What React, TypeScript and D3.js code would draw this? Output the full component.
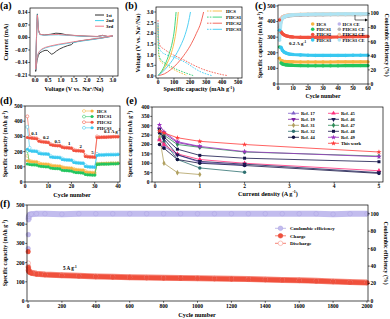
import React from 'react'
import * as d3 from 'd3'

const FONT = '"Liberation Serif", "Times New Roman", serif'
const TICK = 5.5
const TITLE = 6.2

// ---------- (a) CV, [V, mA] ----------
const cvNames = ['1st', '2nd', '3rd']
const cvColors = ['#2b2b2b', '#3fd0ea', '#f27a87']
const cv1st: [number, number][] = [
  [3.0, 0.008], [2.6, -0.002], [2.2, -0.01], [1.8, -0.018], [1.5, -0.026], [1.4, -0.04], [1.25, -0.046],
  [1.1, -0.054], [0.95, -0.064], [0.82, -0.076], [0.72, -0.088], [0.64, -0.094], [0.56, -0.085], [0.47, -0.072],
  [0.38, -0.072], [0.28, -0.078], [0.18, -0.086], [0.12, -0.1], [0.07, -0.13], [0.04, -0.165], [0.02, -0.19],
  [0.03, -0.11], [0.05, -0.01], [0.07, 0.09], [0.085, 0.132], [0.1, 0.1], [0.13, 0.04], [0.18, 0.018],
  [0.35, 0.014], [0.6, 0.018], [0.8, 0.024], [1.0, 0.022], [1.2, 0.015], [1.6, 0.01], [2.0, 0.007],
  [2.4, 0.005], [2.6, 0.012], [2.8, 0.005], [3.0, 0.008],
]
const cv2nd: [number, number][] = [
  [3.0, 0.008], [2.6, -0.003], [2.2, -0.012], [1.8, -0.02], [1.5, -0.027], [1.2, -0.034], [0.9, -0.041],
  [0.6, -0.05], [0.4, -0.058], [0.25, -0.068], [0.15, -0.082], [0.09, -0.1], [0.05, -0.14], [0.03, -0.17],
  [0.02, -0.18], [0.03, -0.1], [0.05, 0.0], [0.07, 0.09], [0.085, 0.128], [0.1, 0.098], [0.13, 0.04],
  [0.18, 0.016], [0.35, 0.012], [0.6, 0.014], [0.9, 0.015], [1.2, 0.012], [1.6, 0.009], [2.0, 0.006],
  [2.4, 0.004], [2.6, 0.01], [2.8, 0.005], [3.0, 0.008],
]
const cv3rd: [number, number][] = [
  [3.0, 0.009], [2.6, -0.001], [2.2, -0.009], [1.8, -0.017], [1.5, -0.024], [1.2, -0.031], [0.9, -0.038],
  [0.6, -0.047], [0.4, -0.055], [0.25, -0.065], [0.15, -0.08], [0.09, -0.1], [0.05, -0.14], [0.03, -0.17],
  [0.02, -0.178], [0.03, -0.1], [0.05, 0.0], [0.07, 0.09], [0.085, 0.126], [0.1, 0.097], [0.13, 0.04],
  [0.18, 0.018], [0.35, 0.014], [0.6, 0.016], [0.9, 0.017], [1.2, 0.014], [1.6, 0.011], [2.0, 0.008],
  [2.4, 0.006], [2.6, 0.011], [2.8, 0.007], [3.0, 0.009],
]

// ---------- (b) charge / discharge profiles, [mAh/g, V] ----------
const samples = ['HCS', 'PHCS1', 'PHCS2', 'PHCS3']
const sampleColors = ['#f6b93b', '#2fd173', '#f3594d', '#3ecbf2']
const dischargeHCS: [number, number][] = [[0, 2.3], [2, 1.4], [6, 0.9], [15, 0.7], [40, 0.55], [80, 0.38], [120, 0.22], [150, 0.12], [180, 0.03]]
const dischargeP1: [number, number][] = [[0, 2.4], [2, 1.5], [6, 1.0], [15, 0.8], [40, 0.62], [80, 0.45], [120, 0.3], [160, 0.18], [200, 0.07], [220, 0.02]]
const dischargeP2: [number, number][] = [[0, 2.62], [2, 2.0], [6, 1.6], [15, 1.4], [40, 1.25], [80, 1.05], [120, 0.9], [170, 0.72], [220, 0.52], [270, 0.35], [320, 0.22], [370, 0.12], [410, 0.05], [435, 0.02]]
const dischargeP3: [number, number][] = [[0, 2.5], [2, 1.8], [6, 1.4], [20, 1.15], [50, 1.0], [100, 0.88], [140, 0.75], [180, 0.6], [220, 0.4], [260, 0.22], [300, 0.1], [335, 0.02]]
const chargeHCS: [number, number][] = [[0, 0.02], [25, 0.2], [50, 0.5], [80, 1.0], [100, 1.55], [115, 2.2], [127, 3.0]]
const chargeP1: [number, number][] = [[0, 0.02], [20, 0.2], [45, 0.55], [70, 1.05], [90, 1.6], [103, 2.2], [113, 3.0]]
const chargeP2: [number, number][] = [[0, 0.02], [40, 0.1], [80, 0.3], [120, 0.58], [160, 0.95], [200, 1.4], [240, 2.0], [270, 2.55], [285, 3.0]]
const chargeP3: [number, number][] = [[0, 0.02], [30, 0.2], [60, 0.45], [100, 0.85], [140, 1.4], [170, 1.95], [190, 2.5], [203, 3.0]]

// ---------- (c) cycling at 0.2 A/g ----------
const cCycles = [1, 2, 3, 4, 5, 6, 7, 8, 9, 10, 15, 20, 25, 30, 35, 40, 45, 50, 55, 60]
const cCapHCS = [165, 150, 147, 145, 144, 143, 143, 142, 142, 142, 141, 141, 141, 141, 141, 142, 142, 142, 142, 142]
const cCapP1 = [237, 135, 128, 125, 123, 122, 121, 120, 120, 119, 118, 117, 117, 117, 117, 117, 118, 118, 118, 118]
const cCapP2 = [410, 335, 322, 315, 310, 307, 305, 303, 302, 301, 299, 298, 299, 300, 300, 301, 302, 303, 304, 305]
const cCapP3 = [345, 235, 215, 205, 200, 196, 193, 191, 190, 189, 186, 184, 183, 183, 183, 183, 183, 184, 184, 184]
const cCeHCS = [80, 93, 95, 96, 96.5, 97, 97.3, 97.5, 97.7, 97.8, 98.2, 98.5, 98.6, 98.7, 98.8, 98.8, 98.9, 98.9, 99, 99]
const cCeP1 = [76, 90, 93, 94.5, 95.5, 96, 96.5, 96.8, 97, 97.2, 97.6, 97.9, 98, 98.1, 98.2, 98.3, 98.3, 98.4, 98.4, 98.5]
const cCeP2 = [72, 92, 95, 96, 97, 97.5, 97.8, 98, 98.2, 98.3, 98.8, 99, 99.2, 99.3, 99.4, 99.4, 99.5, 99.5, 99.5, 99.6]
const cCeP3 = [62, 88, 93, 95, 96, 96.8, 97.2, 97.5, 97.8, 98, 98.5, 98.8, 99, 99.1, 99.2, 99.3, 99.3, 99.4, 99.4, 99.5]
const ceColors = ['#bcb4ec', '#b4b4b4', '#efc6a6', '#aee4f4']
const capColors = ['#f7b440', '#22c55e', '#f2503e', '#38c8f0']

// ---------- (d) rate performance ----------
const dRates = ['0.1', '0.2', '0.5', '1', '2', '5']
const dHCSc = [140, 135, 134, 132, 131, 120, 118, 117, 116, 115, 108, 106, 105, 104, 103, 95, 93, 92, 91, 90, 82, 80, 79, 78, 77, 65, 63, 62, 61, 60, 118, 119, 120, 120, 121, 121, 122, 122, 122, 123]
const dHCSd = [172, 140, 135, 133, 132, 126, 119, 118, 117, 116, 113, 107, 106, 105, 104, 100, 94, 93, 92, 91, 87, 81, 80, 79, 78, 72, 64, 63, 62, 61, 121, 120, 121, 121, 122, 122, 123, 123, 123, 124]
const dP1c = [118, 115, 114, 113, 112, 105, 103, 102, 101, 100, 92, 90, 89, 88, 87, 78, 76, 75, 74, 73, 65, 63, 62, 61, 60, 50, 48, 47, 46, 46, 115, 117, 118, 118, 119, 119, 120, 120, 120, 121]
const dP1d = [205, 120, 115, 114, 113, 110, 104, 103, 102, 101, 97, 91, 90, 89, 88, 83, 77, 76, 75, 74, 70, 64, 63, 62, 61, 56, 49, 48, 47, 47, 120, 118, 119, 119, 120, 120, 121, 121, 121, 122]
const dP2c = [292, 290, 288, 287, 285, 268, 265, 263, 262, 260, 245, 242, 240, 239, 238, 228, 226, 225, 224, 222, 208, 206, 205, 204, 203, 168, 166, 165, 164, 163, 292, 293, 294, 295, 295, 296, 296, 297, 297, 298]
const dP2d = [432, 298, 291, 289, 287, 275, 267, 264, 263, 261, 250, 243, 241, 240, 239, 232, 227, 226, 225, 223, 213, 207, 206, 205, 204, 175, 167, 166, 165, 164, 300, 295, 295, 296, 296, 297, 297, 298, 298, 299]
const dP3c = [215, 205, 203, 202, 200, 188, 186, 185, 184, 183, 165, 163, 162, 161, 160, 148, 146, 145, 144, 143, 128, 126, 125, 124, 123, 102, 100, 99, 98, 97, 175, 177, 178, 178, 179, 179, 180, 180, 180, 181]
const dP3d = [362, 225, 206, 204, 202, 195, 187, 186, 185, 184, 172, 164, 163, 162, 161, 155, 147, 146, 145, 144, 135, 127, 126, 125, 124, 110, 101, 100, 99, 98, 185, 178, 179, 179, 180, 180, 181, 181, 181, 182]

// ---------- (e) comparison with literature ----------
const eRates = [0.1, 0.2, 0.5, 1, 2, 5]
const eNames = ['Ref. 17', 'Ref. 19', 'Ref. 31', 'Ref. 32', 'Ref. 44', 'Ref. 45', 'Ref. 46', 'Ref. 47', 'Ref. 48', 'Ref. 49', 'This work']
const eColors = ['#8060c8', '#7a1fa2', '#b0a060', '#2e7070', '#101040', '#ff2d7a', '#1a1a55', '#2e8b57', '#15154a', '#9b30c0', '#ff3b3b']
const eValues = [
  [230, 190, 145, 105, 90],
  [285, 260, 210, 188],
  [240, 100, 50, 40],
  [265, 215, 120, 75, 52],
  [200, 180, 120, 100, 88, 46],
  [225, 200, 150, 120, 100, 60],
  [280, 230, 145, 110, 95, 50],
  [270, 250, 200, 185, 160, 138],
  [262, 240, 175, 142, 127, 108],
  [305, 268, 215, 190, 162, 135],
  [272, 262, 236, 217, 200, 160],
]

// ---------- (f) long cycling at 5 A/g ----------
const fCycles = [1, 2, 3, 5, 10, 20, 50, 100, 200, 300, 400, 500, 600, 700, 800, 900, 1000, 1100, 1200, 1300, 1400, 1500, 1600, 1700, 1800, 1900, 2000]
const fCharge = [257, 175, 162, 155, 150, 146, 141, 137, 133, 130, 127, 125, 123, 121, 120, 119, 118, 116, 115, 113, 111, 109, 107, 104, 101, 98, 95]
const fDischarge = [197, 180, 165, 157, 151, 147, 142, 138, 134, 131, 128, 126, 124, 122, 121, 120, 119, 117, 116, 114, 112, 110, 108, 105, 102, 99, 96]
const fCE = [60, 76, 93, 97, 99, 99.5, 100, 100, 99.5, 100, 100, 100, 100, 100, 100, 100, 100, 100, 100, 100, 100, 100, 100, 100, 99.5, 100, 100]
const fLegend = ['Coulombic efficiency', 'Charge', 'Discharge']

function rich(s: string, size: number) {
  const segs = s.split(/\^\{([^}]*)\}/)
  return segs.map((seg, i) =>
    i % 2 ? (
      <tspan key={i} dy={-size * 0.38} fontSize={size * 0.65}>{seg}</tspan>
    ) : (
      <tspan key={i} dy={i > 0 ? size * 0.38 : 0}>{seg}</tspan>
    )
  )
}

function Frame({ x, y, yR, xt, yt, yRt, fx, fy, lab = 6.3 }: any) {
  const [l, r] = x.range()
  const [b, t] = y.range()
  return (
    <g>
      <rect x={l} y={t} width={r - l} height={b - t} fill="none" stroke="#000" strokeWidth={0.7} />
      {xt.map((v: number) => (
        <g key={'x' + v}>
          <line x1={x(v)} x2={x(v)} y1={b} y2={b + 1.8} stroke="#000" strokeWidth={0.6} />
          <text x={x(v)} y={b + lab} textAnchor="middle" fontSize={TICK}>{fx(v)}</text>
        </g>
      ))}
      {yt.map((v: number) => (
        <g key={'y' + v}>
          <line x1={l - 1.8} x2={l} y1={y(v)} y2={y(v)} stroke="#000" strokeWidth={0.6} />
          <text x={l - 2.5} y={y(v) + 1.9} textAnchor="end" fontSize={TICK}>{fy(v)}</text>
        </g>
      ))}
      {yR &&
        yRt.map((v: number) => (
          <g key={'r' + v}>
            <line x1={r} x2={r + 1.8} y1={yR(v)} y2={yR(v)} stroke="#000" strokeWidth={0.6} />
            <text x={r + 2.5} y={yR(v) + 1.9} textAnchor="start" fontSize={TICK}>{v}</text>
          </g>
        ))}
    </g>
  )
}

function XTitle({ x, y, s, size = TITLE }: any) {
  return <text x={x} y={y} textAnchor="middle" fontSize={size}>{rich(s, size)}</text>
}
function YTitle({ x, y, s, rot = -90, size = TITLE }: any) {
  return (
    <text transform={`translate(${x},${y}) rotate(${rot})`} textAnchor="middle" fontSize={size}>
      {rich(s, size)}
    </text>
  )
}

const fmt1 = d3.format('.1f')
const fmt2 = d3.format('.2f')
const fmt0 = (v: number) => String(v)

export default function App() {
  // (a)
  const ax = d3.scaleLinear([-0.2, 3.2], [30, 118])
  const ay = d3.scaleLinear([-0.2156, 0.165], [76, 8])
  const aLine = d3.line().x((d: any) => ax(d[0])).y((d: any) => ay(d[1]))
  const cvs = [cv1st, cv2nd, cv3rd]

  // (b)
  const bx = d3.scaleLinear([-12.5, 525], [156, 242])
  const by = d3.scaleLinear([-0.094, 3.234], [78, 7])
  const bLine = d3.line().x((d: any) => bx(d[0])).y((d: any) => by(d[1])).curve(d3.curveMonotoneX)
  const bDis = [dischargeHCS, dischargeP1, dischargeP2, dischargeP3]
  const bCh = [chargeHCS, chargeP1, chargeP2, chargeP3]

  // (c)
  const cx = d3.scaleLinear([0, 60], [278, 368])
  const cy = d3.scaleLinear([0, 506], [84, 5])
  const cyR = d3.scaleLinear([0, 112], [84, 5])
  const cCaps = [cCapHCS, cCapP1, cCapP2, cCapP3]
  const cCes = [cCeHCS, cCeP1, cCeP2, cCeP3]

  // (d)
  const dx = d3.scaleLinear([0, 40.9], [25, 120])
  const dy = d3.scaleLinear([0, 500], [182, 106])
  const dCycles = d3.range(1, dHCSc.length + 1)
  const dCh = [dHCSc, dP1c, dP2c, dP3c]
  const dDis = [dHCSd, dP1d, dP2d, dP3d]

  // (e)
  const ex = d3.scaleLinear([-0.067, 5.09], [152, 383])
  const ey = d3.scaleLinear([0, 400], [182, 107])
  const eSymbols = [
    d3.symbolTriangle, d3.symbolTriangle, d3.symbolDiamond, d3.symbolCircle, d3.symbolCircle,
    d3.symbolTriangle, d3.symbolTriangle, d3.symbolDiamond, d3.symbolSquare, d3.symbolStar, d3.symbolStar,
  ]
  const eFlip = [false, true, false, false, false, false, true, false, false, false, false]

  // (f)
  const fx = d3.scaleLinear([-6, 2006], [27, 368])
  const fy = d3.scaleLinear([0, 500], [301, 205])
  const fyR = d3.scaleLinear([0, 110], [301, 205])

  const xyLine = (sx: any, sy: any, xs: number[], ys: number[]) =>
    d3.line<number>().x((_, i) => sx(xs[i])).y((v) => sy(v))(ys) as string

  return (
    <svg
      width={390}
      height={319}
      style={{ position: 'absolute', left: 0, top: 0, background: '#fff' }}
      fontFamily={FONT}
      fontWeight="bold"
    >
      {/* panel letters */}
      <text x={0} y={9} fontSize={10}>(a)</text>
      <text x={125} y={9} fontSize={10}>(b)</text>
      <text x={255} y={9} fontSize={10}>(c)</text>
      <text x={0} y={104} fontSize={10}>(d)</text>
      <text x={126} y={104} fontSize={10}>(e)</text>
      <text x={0} y={207} fontSize={10}>(f)</text>

      {/* (a) */}
      <g>
        {cvs.map((c, i) => (
          <path key={i} d={aLine(c as any) as string} fill="none" stroke={cvColors[i]} strokeWidth={0.9} />
        ))}
        <Frame x={ax} y={ay} xt={[0, 0.5, 1, 1.5, 2, 2.5, 3]} yt={[-0.21, -0.14, -0.07, 0, 0.07, 0.14]} fx={fmt1} fy={fmt2} />
        {cvNames.map((n, i) => (
          <g key={n}>
            <line x1={95} x2={104} y1={15 + i * 5.6} y2={15 + i * 5.6} stroke={cvColors[i]} strokeWidth={1} />
            <text x={106} y={16.8 + i * 5.6} fontSize={4.8}>{n}</text>
          </g>
        ))}
        <XTitle x={74} y={91} s="Voltage (V vs. Na^{+}/Na)" />
        <YTitle x={8} y={42} s="Current (mA)" />
      </g>

      {/* (b) */}
      <g>
        {bDis.map((d, i) => (
          <path key={'d' + i} d={bLine(d as any) as string} fill="none" stroke={sampleColors[i]} strokeWidth={0.9} strokeDasharray="1.6,1.2" />
        ))}
        {bCh.map((d, i) => (
          <path key={'c' + i} d={bLine(d as any) as string} fill="none" stroke={sampleColors[i]} strokeWidth={0.9} />
        ))}
        <Frame x={bx} y={by} xt={[0, 100, 200, 300, 400, 500]} yt={[0, 0.5, 1, 1.5, 2, 2.5, 3]} fx={fmt0} fy={fmt1} />
        {samples.map((n, i) => (
          <g key={n}>
            <line x1={207} x2={214} y1={11 + i * 6.1} y2={11 + i * 6.1} stroke={sampleColors[i]} strokeWidth={0.9} strokeDasharray="1.6,1.2" />
            <line x1={214} x2={222} y1={11 + i * 6.1} y2={11 + i * 6.1} stroke={sampleColors[i]} strokeWidth={0.9} />
            <text x={226} y={12.8 + i * 6.1} fontSize={4.8}>{n}</text>
          </g>
        ))}
        <XTitle x={199} y={91} s="Specific capacity (mAh g^{-1})" />
        <YTitle x={140} y={43} s="Voltage (V vs. Na^{+}/Na)" />
      </g>

      {/* (c) */}
      <g>
        {cCes.map((v, i) => (
          <g key={'ce' + i}>
            <path d={xyLine(cx, cyR, cCycles, v)} fill="none" stroke={ceColors[i]} strokeWidth={3.2} strokeLinejoin="round" />
            {v.map((c, j) => (
              <circle key={j} cx={cx(cCycles[j])} cy={cyR(c)} r={1.7} fill={ceColors[i]} />
            ))}
          </g>
        ))}
        {cCaps.map((v, i) => (
          <g key={'cap' + i}>
            <path d={xyLine(cx, cy, cCycles.slice(1), v.slice(1))} fill="none" stroke={capColors[i]} strokeWidth={3.2} strokeLinejoin="round" />
            {v.map((c, j) => (
              <circle key={j} cx={cx(cCycles[j])} cy={cy(c)} r={1.7} fill={capColors[i]} />
            ))}
          </g>
        ))}
        <Frame x={cx} y={cy} yR={cyR} xt={[0, 10, 20, 30, 40, 50, 60]} yt={[0, 100, 200, 300, 400, 500]} yRt={[0, 20, 40, 60, 80, 100]} fx={fmt0} fy={fmt0} lab={6} />
        {samples.map((n, i) => (
          <g key={n}>
            <circle cx={312.7} cy={24 + i * 5.3} r={1.8} fill={capColors[i]} />
            <text x={316.5} y={25.8 + i * 5.3} fontSize={4.6}>{n}</text>
            <circle cx={339.3} cy={24 + i * 5.3} r={1.8} fill={ceColors[i]} />
            <text x={342.6} y={25.8 + i * 5.3} fontSize={4.6}>{n + ' CE'}</text>
          </g>
        ))}
        <path d="M355,15 V20 H366" fill="none" stroke="#000" strokeWidth={0.6} />
        <path d="M365,18.5 L368,20 L365,21.5 Z" fill="#000" />
        <text x={289} y={45} fontSize={5}>{rich('0.2 A g^{-1}', 5)}</text>
        <XTitle x={323} y={97.5} s="Cycle number" size={5.8} />
        <YTitle x={262} y={45} s="Specific capacity (mAh g^{-1})" size={5.8} />
        <YTitle x={385} y={45} s="Coulombic efficiency (%)" rot={90} size={5.8} />
      </g>

      {/* (d) */}
      <g>
        {dDis.map((v, i) => (
          <g key={'dd' + i}>
            <path d={xyLine(dx, dy, dCycles, v)} fill="none" stroke={capColors[i]} strokeWidth={0.6} />
            {v.map((c, j) => (
              <circle key={j} cx={dx(dCycles[j])} cy={dy(c)} r={1.5} fill="#fff" stroke={capColors[i]} strokeWidth={0.5} />
            ))}
          </g>
        ))}
        {dCh.map((v, i) => (
          <g key={'dc' + i}>
            <path d={xyLine(dx, dy, dCycles, v)} fill="none" stroke={capColors[i]} strokeWidth={0.6} />
            {v.map((c, j) => (
              <circle key={j} cx={dx(dCycles[j])} cy={dy(c)} r={1.5} fill={capColors[i]} />
            ))}
          </g>
        ))}
        <Frame x={dx} y={dy} xt={[0, 10, 20, 30, 40]} yt={[0, 100, 200, 300, 400, 500]} fx={fmt0} fy={fmt0} />
        {dRates.map((r, k) => (
          <text key={r} x={dx(k * 5 + 4)} y={dy(dP2c[k * 5 + 2]) - 3} fontSize={4.8} textAnchor="middle">{r}</text>
        ))}
        <text x={104} y={dy(dP2c[33]) - 4} fontSize={4.8}>{rich('0.1 A g^{-1}', 4.8)}</text>
        {samples.map((n, i) => (
          <g key={n}>
            <line x1={82} x2={94} y1={111 + i * 5.6} y2={111 + i * 5.6} stroke={capColors[i]} strokeWidth={0.6} />
            <circle cx={84} cy={111 + i * 5.6} r={1.5} fill="#fff" stroke={capColors[i]} strokeWidth={0.5} />
            <circle cx={92} cy={111 + i * 5.6} r={1.5} fill={capColors[i]} />
            <text x={97} y={112.7 + i * 5.6} fontSize={4.6}>{n}</text>
          </g>
        ))}
        <XTitle x={72} y={196.5} s="Cycle number" />
        <YTitle x={7} y={144} s="Specific capacity (mAh g^{-1})" size={5.8} />
      </g>

      {/* (e) */}
      <g>
        {eValues.map((v, i) => (
          <g key={'e' + i}>
            <path d={xyLine(ex, ey, eRates, v)} fill="none" stroke={eColors[i]} strokeWidth={0.8} />
            {v.map((c, j) => (
              <path
                key={j}
                d={d3.symbol(eSymbols[i], 9)() as string}
                transform={`translate(${ex(eRates[j])},${ey(c)})${eFlip[i] ? ' rotate(180)' : ''}`}
                fill={eColors[i]}
              />
            ))}
          </g>
        ))}
        <Frame x={ex} y={ey} xt={[0, 1, 2, 3, 4, 5]} yt={[0, 50, 100, 150, 200, 250, 300, 350, 400]} fx={fmt0} fy={fmt0} />
        {eNames.map((n, i) => {
          const col = i < 5 ? 0 : 1
          const row = i < 5 ? i : i - 5
          const lx = col ? 328 : 288
          const ly = 113.3 + row * 6
          return (
            <g key={n}>
              <line x1={lx} x2={lx + 11} y1={ly} y2={ly} stroke={eColors[i]} strokeWidth={0.8} />
              <path
                d={d3.symbol(eSymbols[i], 9)() as string}
                transform={`translate(${lx + 5.5},${ly})${eFlip[i] ? ' rotate(180)' : ''}`}
                fill={eColors[i]}
              />
              <text x={lx + 13} y={ly + 1.7} fontSize={4.6}>{n}</text>
            </g>
          )
        })}
        <XTitle x={268} y={195.5} s="Current density (A g^{-1})" />
        <YTitle x={132} y={144} s="Specific capacity (mAh g^{-1})" size={5.8} />
      </g>

      {/* (f) */}
      <g>
        <path d={xyLine(fx, fyR, fCycles.slice(2), fCE.slice(2))} fill="none" stroke="#c2bcee" strokeWidth={6} strokeLinejoin="round" />
        {fCE.map((c, j) => (
          <circle key={'ce' + j} cx={fx(fCycles[j])} cy={fyR(c)} r={2.3} fill="#c2bcee" stroke="#a89fe0" strokeWidth={0.4} />
        ))}
        <path d={xyLine(fx, fy, fCycles.slice(2), fDischarge.slice(2))} fill="none" stroke="#f6877a" strokeWidth={6} strokeLinejoin="round" />
        <path d={xyLine(fx, fy, fCycles.slice(2), fCharge.slice(2))} fill="none" stroke="#f0503c" strokeWidth={4.5} strokeLinejoin="round" />
        {fDischarge.map((c, j) => (
          <circle key={'d' + j} cx={fx(fCycles[j])} cy={fy(c)} r={2.3} fill="#fff" stroke="#f6877a" strokeWidth={0.5} />
        ))}
        {fCharge.map((c, j) => (
          <circle key={'c' + j} cx={fx(fCycles[j])} cy={fy(c)} r={2.3} fill="#f0503c" stroke="#e03c2c" strokeWidth={0.4} />
        ))}
        <Frame x={fx} y={fy} yR={fyR} xt={d3.range(0, 2001, 200)} yt={[0, 100, 200, 300, 400, 500]} yRt={[0, 20, 40, 60, 80, 100]} fx={fmt0} fy={fmt0} lab={7.3} />
        {fLegend.map((n, i) => (
          <g key={n}>
            <line x1={275} x2={286} y1={228.3 + i * 7.5} y2={228.3 + i * 7.5} stroke={i ? '#f0503c' : '#a89fe0'} strokeWidth={0.7} />
            <circle
              cx={280.5}
              cy={228.3 + i * 7.5}
              r={2.3}
              fill={i === 0 ? '#c2bcee' : i === 1 ? '#f0503c' : '#fff'}
              stroke={i === 0 ? '#a89fe0' : i === 1 ? '#e03c2c' : '#f6877a'}
              strokeWidth={0.5}
            />
            <text x={290} y={230.2 + i * 7.5} fontSize={5}>{n}</text>
          </g>
        ))}
        <text x={63} y={270} fontSize={5.2}>{rich('5 A g^{-1}', 5.2)}</text>
        <XTitle x={197} y={316.5} s="Cycle number" />
        <YTitle x={7} y={253} s="Specific capacity (mAh g^{-1})" size={5.8} />
        <YTitle x={384} y={253} s="Coulombic efficiency (%)" rot={90} size={5.8} />
      </g>
    </svg>
  )
}
